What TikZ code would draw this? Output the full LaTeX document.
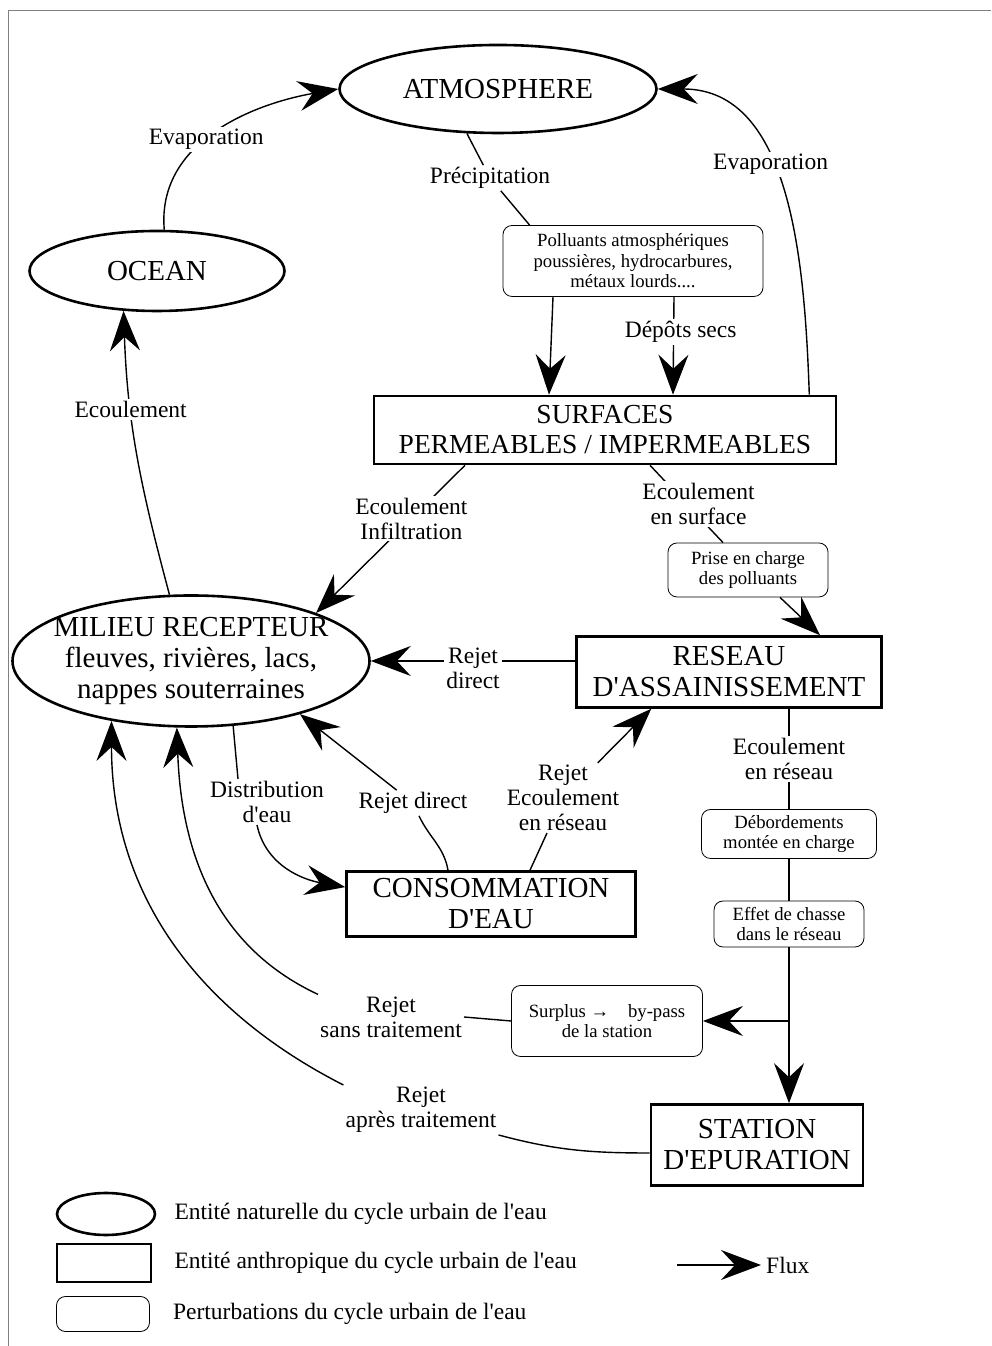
\documentclass[tikz,border=0pt]{standalone}
\usepackage{fontspec}
\setmainfont{Liberation Serif}[Ligatures=TeXOff]
\usetikzlibrary{arrows.meta, shapes.geometric, positioning, calc}
\newcommand{\fbig}{\fontsize{29}{31}\selectfont}
\newcommand{\fsurf}{\fontsize{27.5}{30}\selectfont}
\newcommand{\fmid}{\fontsize{23.5}{25}\selectfont}
\newcommand{\fsmall}{\fontsize{18.7}{20.5}\selectfont}
\tikzset{
	natural/.style={ellipse, draw, line width=2.6pt, inner sep=0pt, font=\fbig},
	anthro/.style={rectangle, draw, line width=2.6pt, inner sep=2pt, align=center, font=\fbig},
	perturb/.style={rectangle, draw, rounded corners=9pt, line width=0.8pt, inner sep=2pt, align=center, font=\fsmall},
	lbl/.style={fill=white, inner sep=2pt, align=center, font=\fmid},
	legtxt/.style={inner sep=0pt, font=\fmid},
	link/.style={draw, line width=1.4pt},
	flux/.style={link, -{Stealth[length=40pt, width=30pt, inset=14pt]}},
	pageframe/.style={draw, gray, line width=0.8pt}
}

\begin{document}
\begin{tikzpicture}[x=1pt, y=1pt]
	\useasboundingbox (0,0) rectangle (991,1346);
	\draw[pageframe] (8,0) -- (8,1336) -- (991,1336);
	% natural entities
	\node[natural, minimum width=317pt, minimum height=88pt] (atm) at (498,1257) {ATMOSPHERE};
	\node[natural, minimum width=255pt, minimum height=80pt] (ocean) at (157,1075) {OCEAN};
	\node[natural, minimum width=357pt, minimum height=131pt] (milieu) at (191,685) {};
	\node[font=\fbig, align=center] (milieutxt) at (milieu) {MILIEU RECEPTEUR\\fleuves, rivières, lacs,\\nappes souterraines};
	% anthropic entities
	\node[anthro, font=\fsurf, minimum width=462pt, minimum height=68pt] (surf) at (605,916) {SURFACES\\PERMEABLES / IMPERMEABLES};
	\node[anthro, minimum width=305pt, minimum height=71pt] (reseau) at (729,674) {RESEAU\\D'ASSAINISSEMENT};
	\node[anthro, minimum width=289pt, minimum height=65pt] (conso) at (491,442) {CONSOMMATION\\D'EAU};
	\node[anthro, minimum width=212pt, minimum height=81pt] (station) at (757,201) {STATION\\D'EPURATION};
	% perturbations
	\node[perturb, minimum width=260pt, minimum height=71pt] (poll) at (633,1085) {Polluants atmosphériques\\poussières, hydrocarbures,\\métaux lourds....};
	\node[perturb, minimum width=160pt, minimum height=54pt] (prise) at (748,776) {Prise en charge\\des polluants};
	\node[perturb, minimum width=175pt, minimum height=49pt] (debord) at (789,512) {Débordements\\montée en charge};
	\node[perturb, minimum width=150pt, minimum height=46pt] (effet) at (789,422) {Effet de chasse\\dans le réseau};
	\node[perturb, minimum width=191pt, minimum height=71pt] (surplus) at (607,325) {Surplus {\bfseries →}\quad by-pass\\de la station};
	% labels between two connectors
	\node[lbl] (lPrecip) at (490,1168) {Précipitation};
	\node[lbl] (lDistrib) at (267,544) {Distribution\\d'eau};
	\node[lbl] (lRejetDir) at (413,543) {Rejet direct};
	\node[lbl] (lRejetEc) at (563,548) {Rejet\\Ecoulement\\en réseau};
	\node[lbl] (lSans) at (391,329) {Rejet\\sans traitement};
	\node[lbl] (lApres) at (421,236) {Rejet\\après traitement};
	% flows
	\draw[flux] (ocean.80) to[out=95, in=190] node[lbl, pos=0.45] (lEvapL) {Evaporation} (atm.west);
	\draw[link] (atm.235) -- (lPrecip);
	\draw[link] (lPrecip) -- ($(poll.north west)+(27,0)$);
	\draw[flux] ($(poll.south)+(-80,0)$) -- ($(surf.north)+(-56,0)$);
	\draw[flux] ($(poll.south)+(41,0)$) -- ($(surf.north)+(68,0)$) node[lbl, pos=0.36, xshift=7pt] (lDepots) {Dépôts secs};
	\draw[flux] ($(surf.north east)+(-28,0)$) to[out=92, in=0] node[lbl, pos=0.58] (lEvapR) {Evaporation} (atm.east);
	\draw[flux] (milieu.108) to[out=105, in=-88] node[lbl, pos=0.67] (lEcoulO) {Ecoulement} (ocean.230);
	\draw[flux] ($(surf.south)+(-140,0)$) -- (milieu.21) node[lbl, pos=0.36] (lInfil) {Ecoulement\\Infiltration};
	\draw[link] ($(surf.south)+(45,0)$) -- ($(prise.north)+(-25,0)$) node[lbl, pos=0.5, xshift=12pt] (lSurf) {Ecoulement\\en surface};
	\draw[flux] ($(prise.south)+(32,0)$) -- ($(reseau.north)+(91,0)$);
	\draw[flux] (reseau.west |- milieu.east) -- (milieu.east) node[lbl, midway, yshift=-7pt] (lRejetD) {Rejet\\direct};
	\draw[link] (reseau.south -| debord.north) -- (debord.north) node[lbl, midway] (lEcRes) {Ecoulement\\en réseau};
	\draw[link] (debord.south) -- (effet.north);
	\draw[flux] (effet.south) -- (effet.south |- station.north);
	\coordinate (branch) at (effet.south |- surplus.east);
	\draw[flux] (branch) -- (surplus.east);
	\draw[link] (surplus.west) -- (lSans.east);
	\draw[flux] (lSans.north west) to[out=155, in=-88] (milieu.258);
	\draw[link] ($(station.west)+(0,-8)$) to[out=180, in=-15] (lApres.south east);
	\draw[flux] (lApres.north west) to[out=153, in=-90] (milieu.217);
	\draw[link] (milieu.303) -- ($(lDistrib.north)+(-29,0)$);
	\draw[flux] ($(lDistrib.south)+(-10,0)$) to[out=-78, in=170] ($(conso.north west)!0.25!(conso.south west)$);
	\draw[link] ($(conso.north)+(-43,0)$) to[out=100, in=-65] (lRejetDir);
	\draw[flux] (lRejetDir) -- (milieu.334);
	\draw[link] ($(conso.north)+(39,0)$) -- (lRejetEc);
	\draw[flux] (lRejetEc) -- ($(reseau.south west)+(76,0)$);
	% legend
	\node[natural, minimum width=98pt, minimum height=42pt] (legNat) at (106,132) {};
	\node[legtxt, right=18pt of legNat] (txtNat) {Entité naturelle du cycle urbain de l'eau};
	\node[anthro, minimum width=94pt, minimum height=38pt] (legAnt) at (104,83) {};
	\node[legtxt, right=22pt of legAnt] (txtAnt) {Entité anthropique du cycle urbain de l'eau};
	\node[perturb, minimum width=93pt, minimum height=35pt] (legPer) at (103,32) {};
	\node[legtxt, right=23pt of legPer] (txtPer) {Perturbations du cycle urbain de l'eau};
	\node[legtxt, anchor=west] (txtFlux) at (766,81) {Flux};
	\coordinate (fluxA) at (677,81);
	\draw[flux] (fluxA) -- ($(txtFlux.west)+(-5,0)$);
\end{tikzpicture}
\end{document}
